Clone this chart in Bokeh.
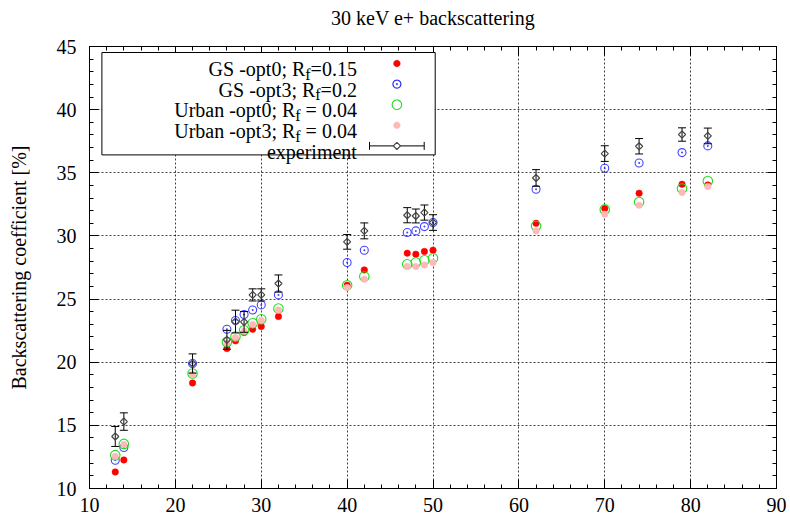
import math
from bokeh.plotting import figure
from bokeh.models import (Range1d, LinearAxis, SingleIntervalTicker, Label, BoxAnnotation,
                          PolyAnnotation, Arrow, TeeHead, CustomJSTickFormatter, Grid)
from bokeh.embed import file_html
from bokeh.resources import INLINE

# ---------------- data ----------------
Z = [13, 14, 22, 26, 27, 28, 29, 30, 32, 40, 42, 47, 48, 49, 50, 62, 70, 74, 79, 82]
gs_opt0 = [11.31, 12.26, 18.36, 21.08, 21.69, 22.35, 22.61, 22.83, 23.62, 26.10,
           27.31, 28.63, 28.55, 28.77, 28.87, 31.00, 32.17, 33.38, 34.09, 34.04]
gs_opt3 = [12.24, 13.25, 19.90, 22.61, 23.30, 23.78, 24.14, 24.54, 25.33, 27.89,
           28.87, 30.27, 30.40, 30.74, 31.06, 33.70, 35.36, 35.78, 36.60, 37.13]
urban_opt0 = [12.64, 13.53, 19.11, 21.61, 22.03, 22.53, 23.09, 23.40, 24.25, 26.10,
              26.79, 27.76, 27.89, 28.08, 28.23, 30.79, 32.10, 32.69, 33.75, 34.35]
urban_opt3 = [12.55, 13.48, 19.05, 21.52, 21.95, 22.45, 22.98, 23.30, 24.14, 25.91,
              26.57, 27.58, 27.58, 27.70, 27.89, 30.40, 31.72, 32.43, 33.44, 33.91]
exp_val = [14.12, 15.30, 19.90, 21.77, 23.22, 23.19, 25.33, 25.33, 26.23, 29.53,
           30.40, 31.64, 31.58, 31.85, 31.06, 34.59, 36.52, 37.10, 38.03, 37.92]
exp_err = [0.79, 0.69, 0.76, 0.75, 0.90, 0.82, 0.48, 0.48, 0.68, 0.58,
           0.63, 0.60, 0.55, 0.60, 0.62, 0.66, 0.62, 0.61, 0.53, 0.62]

legend_heads = ["GS -opt0; R", "GS -opt3; R", "Urban -opt0; R", "Urban -opt3; R"]
legend_tails = ["=0.15", "=0.2", "= 0.04", "= 0.04"]
legend_tail_space = [False, False, True, True]
legend_sub = "f"
exp_label = "experiment"
title_text = "30 keV e+ backscattering"
y_label = "Backscattering coefficient [%]"

X_MIN, X_MAX, Y_MIN, Y_MAX = 10, 90, 10, 45

FONT = "Liberation Serif"
FW, FH = 687, 442

p = figure(frame_width=FW, frame_height=FH,
           x_range=Range1d(X_MIN, X_MAX), y_range=Range1d(Y_MIN, Y_MAX),
           output_backend="svg", toolbar_location=None,
           min_border_left=89, min_border_right=10, min_border_top=0, min_border_bottom=0,
           x_axis_type=None, y_axis_type=None, title=title_text)
p.background_fill_color = "white"
p.border_fill_color = "white"
p.outline_line_color = "black"
p.outline_line_width = 1

p.title.align = "center"
p.title.vertical_align = "bottom"
p.title.text_font = FONT
p.title.text_font_size = "20px"
p.title.text_font_style = "normal"
p.title.text_color = "black"
p.title.standoff = 8

xt = SingleIntervalTicker(interval=10, num_minor_ticks=5)
yt = SingleIntervalTicker(interval=5, num_minor_ticks=5)


def style_axis(ax, show_labels):
    ax.axis_line_color = "black"
    ax.major_tick_line_color = "black"
    ax.minor_tick_line_color = "black"
    ax.major_tick_in = 9
    ax.major_tick_out = 0
    ax.minor_tick_in = 4
    ax.minor_tick_out = 0
    if show_labels:
        ax.major_label_text_font = FONT
        ax.major_label_text_font_size = "20px"
        ax.major_label_text_font_style = "normal"
        ax.major_label_text_color = "black"
    else:
        ax.formatter = CustomJSTickFormatter(code="return ''")
        ax.major_label_text_font_size = "1px"
        ax.major_label_standoff = 0


xb = LinearAxis(ticker=xt)
style_axis(xb, True)
xb.major_label_standoff = 9
p.add_layout(xb, "below")

yl = LinearAxis(ticker=yt, axis_label=y_label)
style_axis(yl, True)
yl.major_label_standoff = 13
yl.axis_label_text_font = FONT
yl.axis_label_text_font_size = "20px"
yl.axis_label_text_font_style = "normal"
yl.axis_label_text_color = "black"
yl.axis_label_standoff = 24
p.add_layout(yl, "left")

# mirrored ticks on top and right
xa = LinearAxis(ticker=xt)
style_axis(xa, False)
p.add_layout(xa, "above")
yr = LinearAxis(ticker=yt)
style_axis(yr, False)
p.add_layout(yr, "right")

# invisible spacer between the frame and the title
spacer = LinearAxis(ticker=SingleIntervalTicker(interval=10, num_minor_ticks=0))
spacer.formatter = CustomJSTickFormatter(code="return ''")
spacer.major_label_text_font_size = "1px"
spacer.major_label_standoff = 0
spacer.major_tick_in = 0
spacer.major_tick_out = 14
spacer.minor_tick_in = 0
spacer.minor_tick_out = 0
spacer.major_tick_line_alpha = 0
spacer.minor_tick_line_alpha = 0
spacer.axis_line_alpha = 0
p.add_layout(spacer, "above")

for dim, tk in ((0, xt), (1, yt)):
    g = Grid(dimension=dim, ticker=tk, grid_line_color="black", grid_line_alpha=0.75,
             grid_line_dash="2 2", grid_line_width=1)
    p.add_layout(g)

# ---------------- series ----------------
p.scatter(Z, gs_opt0, marker="circle", size=6.5, fill_color="#ff0000",
          line_color="#ff0000", line_width=0.5)
p.scatter(Z, gs_opt3, marker="circle_dot", size=8, fill_color=None,
          line_color="#2222ff", line_width=1.1, line_alpha=0.85)
p.scatter(Z, urban_opt0, marker="circle", size=9.5, fill_color=None,
          line_color="#22dd22", line_width=1.1)
p.scatter(Z, urban_opt3, marker="circle", size=6.5, fill_color="#ffb8b8",
          line_color="#ffb8b8", line_width=0.5)

lo = [v - e for v, e in zip(exp_val, exp_err)]
hi = [v + e for v, e in zip(exp_val, exp_err)]
p.segment(Z, lo, Z, hi, line_color="black", line_width=1)
p.scatter(Z, lo, marker="dash", size=8, line_color="black", line_width=1)
p.scatter(Z, hi, marker="dash", size=8, line_color="black", line_width=1)
p.scatter(Z, exp_val, marker="square", angle=math.pi / 4, size=5, fill_color=None,
          line_color="#444444", line_width=1.2)

# ---------------- legend (screen units relative to the frame) ----------------
REF_L, REF_T = 89.3, 47.3


def sx(X):
    return X - REF_L


def sy(Y):
    return FH - (Y - REF_T)


def lab(x, y, text, size="20px", align="right"):
    p.add_layout(Label(x=x, y=y, x_units="screen", y_units="screen", text=text,
                       text_font=FONT, text_font_size=size, text_align=align,
                       text_baseline="alphabetic", text_color="black"))


TNR = {' ': 250, '-': 333, ';': 278, '=': 564, '.': 250, 'f': 333}
for d in "0123456789":
    TNR[d] = 500


def tw(s, size):
    return sum(TNR.get(c, 500) for c in s) * size / 1000.0


p.add_layout(BoxAnnotation(left=sx(101.7), right=sx(435), top=sy(53.3), bottom=sy(155.7),
                           left_units="screen", right_units="screen",
                           top_units="screen", bottom_units="screen",
                           fill_color="white", fill_alpha=1.0, line_color="black",
                           line_width=1, line_alpha=1.0))

RX = 356.7
baselines = [70.0, 90.6, 111.2, 131.8, 152.4]
mcenters = [64.3, 84.9, 105.5, 126.1, 146.7]
MX = 396.7

for i in range(4):
    tail = legend_tails[i]
    tail_w = tw(tail, 20) + (tw(" ", 20) if legend_tail_space[i] else 0)
    sub_w = tw(legend_sub, 16)
    lab(sx(RX), sy(baselines[i]), tail, align="right")
    lab(sx(RX - tail_w - sub_w), sy(baselines[i] + 5), legend_sub, size="16px", align="left")
    lab(sx(RX - tail_w - sub_w), sy(baselines[i]), legend_heads[i], align="right")
lab(sx(RX), sy(baselines[4]), exp_label, align="right")


def circ(cx, cy, r, n=28):
    xs = [sx(cx + r * math.cos(2 * math.pi * k / n)) for k in range(n)]
    ys = [sy(cy + r * math.sin(2 * math.pi * k / n)) for k in range(n)]
    return xs, ys


def poly(xs, ys, fill, line, lw):
    p.add_layout(PolyAnnotation(xs=xs, ys=ys, xs_units="screen", ys_units="screen",
                                fill_color=fill, fill_alpha=1.0 if fill else 0.0,
                                line_color=line, line_width=lw, line_alpha=1.0))


xs, ys = circ(MX, mcenters[0], 3.3)
poly(xs, ys, "#ff0000", "#ff0000", 0.5)
xs, ys = circ(MX, mcenters[1], 4.0)
poly(xs, ys, None, "#2222ff", 1.1)
xs, ys = circ(MX, mcenters[1], 0.8, 10)
poly(xs, ys, "#2222ff", "#2222ff", 0.5)
xs, ys = circ(MX, mcenters[2], 4.75)
poly(xs, ys, None, "#22dd22", 1.1)
xs, ys = circ(MX, mcenters[3], 3.3)
poly(xs, ys, "#ffb8b8", "#ffb8b8", 0.5)

p.add_layout(Arrow(x_start=sx(369.3), y_start=sy(mcenters[4]), x_end=sx(424.0), y_end=sy(mcenters[4]),
                   start_units="screen", end_units="screen",
                   start=TeeHead(size=8, line_color="black", line_width=1),
                   end=TeeHead(size=8, line_color="black", line_width=1),
                   line_color="black", line_width=1))
d = 3.6
poly([sx(MX - d), sx(MX), sx(MX + d), sx(MX)],
     [sy(mcenters[4]), sy(mcenters[4] - d), sy(mcenters[4]), sy(mcenters[4] + d)],
     "white", "#444444", 1.2)

open("out.html", "w").write(file_html(p, INLINE))
